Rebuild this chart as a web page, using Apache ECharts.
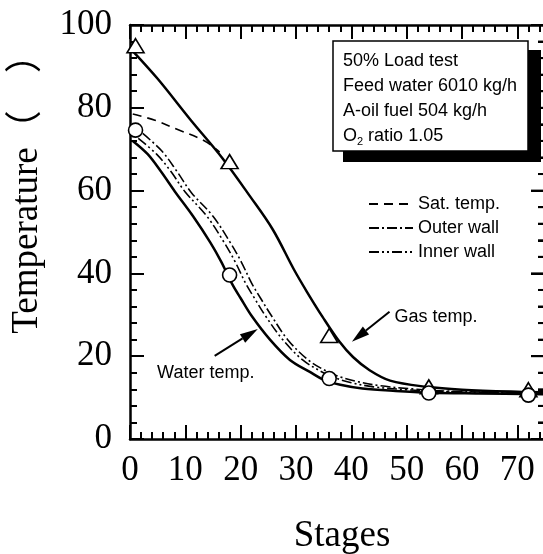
<!DOCTYPE html>
<html><head><meta charset="utf-8">
<script src="https://cdn.jsdelivr.net/npm/echarts@6/dist/echarts.min.js"></script>
<style>html,body{margin:0;padding:0;background:#fff}#c{width:543px;height:554px}</style>
</head><body><div id="c"></div>
<script>
// ---- data ----
const xTickLabels = ['0','10','20','30','40','50','60','70'];
const yTickLabels = ['0','20','40','60','80','100'];
const stages = [1, 18, 36, 54, 72];
const gasTemp = [95, 67, 25, 12.6, 11.9];
const waterTemp = [74.6, 39.6, 14.6, 11.1, 10.6];
const gasCurve = [[0.5,93.7],[5,87],[11,77],[16.6,68],[21.7,58.6],[25.8,50.6],[29.6,41],[32,35.5],[34.8,29.5],[37.8,23.6],[40.3,19.8],[43.3,16.6],[47,14.1],[53.6,12.6],[60,11.9],[70,11.4],[75,11.3]];
const waterCurve = [[0.5,72],[3.2,68.8],[5.6,64.6],[8.1,59.8],[11.4,53.8],[14.5,47.5],[16.5,42.8],[18.4,37.6],[20,34],[22,29.7],[25.3,24],[28.9,19.1],[32.5,16.2],[35,14.3],[38,13.1],[42,12.2],[48,11.6],[54,11.2],[63,11],[75,10.8]];
const satCurve = [[0.5,78.5],[4.5,77],[8.5,74.8],[13.5,72],[16.2,69.3]];
const innerCurve = [[1.5,72.6],[4.8,68.8],[7.4,64.6],[9.9,59.8],[13.9,53.8],[17,47.5],[19,42.8],[20.9,37.6],[22.5,34],[24.5,29.7],[27.6,24],[31.2,19.1],[34.7,16.2],[37,14.8],[40,13.6],[44,12.6],[50,11.9],[56,11.5],[64,11.2],[75,11]];
const outerCurve = [[2.3,73.8],[5.8,69.5],[8.5,64.6],[11.1,59.5],[15,53.8],[18.1,47.5],[20.1,42.8],[22,37.6],[23.6,34],[25.6,29.7],[28.5,24],[32.2,19.1],[35.5,16.4],[38,15],[41,13.9],[45,12.9],[51,12.1],[57,11.6],[65,11.3],[75,11.1]];
const infoLines = ['50% Load test','Feed water 6010 kg/h','A-oil fuel 504 kg/h'];

const SERIF = "'Liberation Serif','Times New Roman',serif";
const SANS = "'Liberation Sans',Arial,sans-serif";

const chart = echarts.init(document.getElementById('c'), null, {renderer:'canvas'});

const BLACK = '#000';
function xMajor(pos, labels){
  return {type:'value', min:0, max:75, interval:10, position:pos,
    axisLine:{show:true, onZero:false, lineStyle:{color:BLACK, width:2.5}},
    axisTick:{show:true, inside:true, length:14, lineStyle:{color:BLACK, width:2}},
    minorTick:{show:false}, splitLine:{show:false},
    axisLabel: labels ? {show:true, margin:14, color:BLACK, fontFamily:SERIF, fontSize:35, showMaxLabel:false,
        formatter:v=> xTickLabels.includes(String(v)) ? String(v) : ''} : {show:false}};
}
function xMinor(pos){
  return {type:'value', min:0, max:75, interval:2, position:pos,
    axisLine:{show:false, onZero:false},
    axisTick:{show:true, inside:true, length:7, lineStyle:{color:BLACK, width:2}},
    splitLine:{show:false}, axisLabel:{show:false}};
}
function yAx(pos, labels){
  return {type:'value', min:0, max:100, interval:20, position:pos,
    axisLine:{show:true, onZero:false, lineStyle:{color:BLACK, width:2.5}},
    axisTick:{show:true, inside:true, length:14, lineStyle:{color:BLACK, width:2}},
    minorTick:{show:true, splitNumber:5, length:7, lineStyle:{color:BLACK, width:2}},
    splitLine:{show:false},
    axisLabel: labels ? {show:true, margin:18, color:BLACK, fontFamily:SERIF, fontSize:35,
        formatter:v=> yTickLabels.includes(String(v)) ? String(v) : ''} : {show:false}};
}
const SM = 0.35;
const option = {
  animation:false,
  backgroundColor:'#fff',
  grid:{left:130, top:25, right:-2, bottom:115, outerBoundsMode:'none'},
  xAxis:[xMajor('bottom', true), xMinor('bottom'), xMajor('top', false), xMinor('top')],
  yAxis:[yAx('left', true), yAx('right', false)],
  legend:{
    data:['Sat. temp.','Outer wall','Inner wall'],
    orient:'vertical', left:363, top:190,
    itemWidth:44, itemHeight:12, itemGap:6,
    selectedMode:false,
    itemStyle:{opacity:0},
    textStyle:{fontFamily:SANS, fontSize:18, color:BLACK}
  },
  series:[
    {name:'Gas temp.', type:'line', data:gasCurve, smooth:SM, symbol:'none',
      lineStyle:{color:BLACK, width:2.5}, z:3},
    {name:'Water temp.', type:'line', data:waterCurve, smooth:SM, symbol:'none',
      lineStyle:{color:BLACK, width:2.5}, z:3},
    {name:'Sat. temp.', type:'line', data:satCurve, smooth:SM, symbol:'none',
      itemStyle:{color:BLACK},
      lineStyle:{color:BLACK, width:1.6, type:[9,6]}, z:3},
    {name:'Outer wall', type:'line', data:outerCurve, smooth:SM, symbol:'none',
      itemStyle:{color:BLACK},
      lineStyle:{color:BLACK, width:1.6, type:[10,3,2,3]}, z:3},
    {name:'Inner wall', type:'line', data:innerCurve, smooth:SM, symbol:'none',
      itemStyle:{color:BLACK},
      lineStyle:{color:BLACK, width:1.6, type:[10,3,2,3,2,3]}, z:3},
    {name:'Gas points', type:'scatter', data:stages.map((s,i)=>[s,gasTemp[i]]), symbol:'triangle', symbolSize:[17,14],
      itemStyle:{color:'#fff', borderColor:BLACK, borderWidth:1.6, opacity:1}, z:4},
    {name:'Water points', type:'scatter', data:stages.map((s,i)=>[s,waterTemp[i]]), symbol:'circle', symbolSize:14,
      itemStyle:{color:'#fff', borderColor:BLACK, borderWidth:1.6, opacity:1}, z:5}
  ]
};
chart.setOption(option);

const P = (x,y)=> chart.convertToPixel({gridIndex:0},[x,y]);
function arrow(from, to, id){
  const a = P(from[0],from[1]), b = P(to[0],to[1]);
  const dx=b[0]-a[0], dy=b[1]-a[1], L=Math.hypot(dx,dy), ux=dx/L, uy=dy/L;
  const hl=18, hw=5;
  const bx=b[0]-ux*hl, by=b[1]-uy*hl;
  return [
    {type:'line', id:id+'l', shape:{x1:a[0],y1:a[1],x2:bx,y2:by}, style:{stroke:BLACK, lineWidth:2}, z:10},
    {type:'polygon', id:id+'h', shape:{points:[[b[0],b[1]],[bx-uy*hw,by+ux*hw],[bx+uy*hw,by-ux*hw]]}, style:{fill:BLACK}, z:10}
  ];
}
// right-side axis ticks (mirror of the left axis), placed through the y scale
const rightTicks = [];
for (let v = 0; v <= 100; v += 4) {
  const p = P(75, v);
  const len = (v % 20 === 0) ? 14 : 7;
  rightTicks.push({type:'line', id:'rt'+v, shape:{x1:p[0]-len, y1:p[1], x2:p[0], y2:p[1]}, style:{stroke:BLACK, lineWidth:2}, z:9});
}
const gt = P(47.8,29.5), wt = P(4.9,16);
const graphics = [
  ...rightTicks,
  {type:'rect', id:'shadow', shape:{x:343,y:50,width:198,height:112}, style:{fill:BLACK}, z:20},
  {type:'rect', id:'box', shape:{x:333,y:41,width:195,height:110}, style:{fill:'#fff', stroke:BLACK, lineWidth:1.5}, z:21},
  ...infoLines.map((t,i)=>({type:'text', id:'info'+i, x:343, y:61+25*i, z:22,
    style:{text:t, fontFamily:SANS, fontSize:18, fill:BLACK, textVerticalAlign:'middle', textAlign:'left'}})),
  {type:'text', id:'info3', x:343, y:136, z:22,
    style:{text:'{n|O}{s|2}{n| ratio 1.05}', fill:BLACK, textVerticalAlign:'middle', textAlign:'left',
      rich:{n:{fontFamily:SANS, fontSize:18, lineHeight:22, fill:BLACK}, s:{fontFamily:SANS, fontSize:11, verticalAlign:'bottom', fill:BLACK}}}},
  {type:'text', id:'gasT', x:gt[0], y:gt[1], z:22, style:{text:'Gas temp.', fontFamily:SANS, fontSize:18, fill:BLACK, textVerticalAlign:'middle'}},
  {type:'text', id:'watT', x:wt[0], y:wt[1], z:22, style:{text:'Water temp.', fontFamily:SANS, fontSize:18, fill:BLACK, textVerticalAlign:'middle'}},
  ...arrow([46.9,30.75],[40.1,23.5],'ga'),
  ...arrow([15.3,20.1],[23.1,26.6],'wa'),
  {type:'text', id:'yname', x:27, y:185, rotation:Math.PI/2, z:22,
    style:{text:'Temperature（　）', fontFamily:"'Liberation Serif','Noto Sans CJK JP',serif", fontSize:37, fill:BLACK, textAlign:'center', textVerticalAlign:'middle'}},
  {type:'text', id:'xname', x:342, y:536, z:22,
    style:{text:'Stages', fontFamily:SERIF, fontSize:37, fill:BLACK, textAlign:'center', textVerticalAlign:'middle'}}
];
chart.setOption({graphic:graphics});
</script></body></html>
